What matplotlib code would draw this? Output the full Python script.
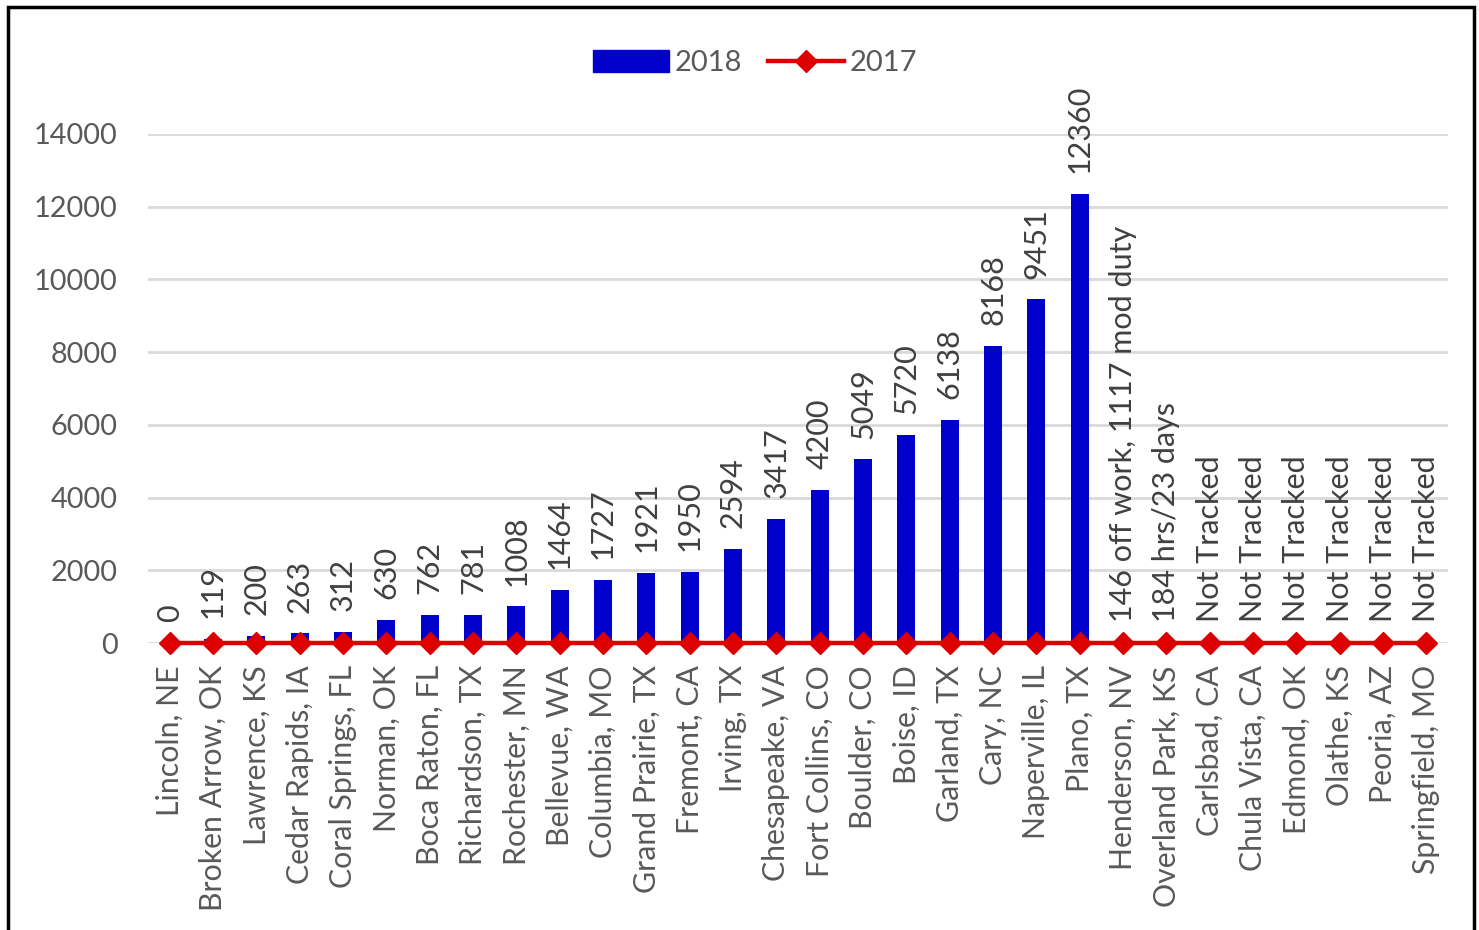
import matplotlib
matplotlib.use("Agg")
import matplotlib.pyplot as plt
from matplotlib.patches import Rectangle
from matplotlib.lines import Line2D
from matplotlib.patches import Patch

plt.rcParams['font.family'] = ['Lato', 'DejaVu Sans']

cities = ["Lincoln, NE", "Broken Arrow, OK", "Lawrence, KS", "Cedar Rapids, IA",
          "Coral Springs, FL", "Norman, OK", "Boca Raton, FL", "Richardson, TX",
          "Rochester, MN", "Bellevue, WA", "Columbia, MO", "Grand Prairie, TX",
          "Fremont, CA", "Irving, TX", "Chesapeake, VA", "Fort Collins, CO",
          "Boulder, CO", "Boise, ID", "Garland, TX", "Cary, NC", "Naperville, IL",
          "Plano, TX", "Henderson, NV", "Overland Park, KS", "Carlsbad, CA",
          "Chula Vista, CA", "Edmond, OK", "Olathe, KS", "Peoria, AZ",
          "Springfield, MO"]
values_2018 = [0, 119, 200, 263, 312, 630, 762, 781, 1008, 1464, 1727, 1921,
               1950, 2594, 3417, 4200, 5049, 5720, 6138, 8168, 9451, 12360,
               0, 0, 0, 0, 0, 0, 0, 0]
values_2017 = [0] * 30
labels_2018 = [str(v) for v in values_2018[:22]] + [
    "146 off work, 1117 mod duty", "184 hrs/23 days",
    "Not Tracked", "Not Tracked", "Not Tracked", "Not Tracked",
    "Not Tracked", "Not Tracked"]
yticks = [0, 2000, 4000, 6000, 8000, 10000, 12000, 14000]

W, H = 1479, 930
fig = plt.figure(figsize=(W / 100, H / 100), dpi=100)
ax = fig.add_axes([148 / W, 1 - 643 / H, 1300 / W, 509 / H])

x = list(range(len(cities)))
blue = "#0000CC"
red = "#DD0000"
gray = "#595959"

ax.bar(x, values_2018, width=0.42, color=blue, zorder=2)
ax.plot(x, values_2017, color=red, lw=3.2, marker="D", markersize=11,
        markerfacecolor=red, markeredgecolor=red, zorder=3, clip_on=False)

for xi, v, lab in zip(x, values_2018, labels_2018):
    ax.annotate(lab, (xi, v), xytext=(0, 15), textcoords="offset points",
                rotation=90, ha="center", va="bottom", fontsize=22,
                color="#404040", annotation_clip=False)

ax.set_xlim(-0.5, len(cities) - 0.5)
ax.set_ylim(0, 14000)
ax.set_yticks(yticks)
ax.set_yticklabels([str(t) for t in yticks], fontsize=20.8, color=gray)
ax.set_xticks(x)
ax.set_xticklabels(cities, rotation=90, fontsize=21.8, color=gray, ha="center", va="top")
ax.tick_params(axis="both", length=0)
ax.tick_params(axis="y", pad=22)
ax.tick_params(axis="x", pad=16)
ax.grid(axis="y", color="#D9D9D9", lw=2, zorder=0)
ax.set_axisbelow(True)
for s in ax.spines.values():
    s.set_visible(False)

handles = [Patch(facecolor=blue, edgecolor=blue),
           Line2D([0], [0], color=red, lw=3.2, marker="D", markersize=11)]
fig.legend(handles, ["2018", "2017"], loc="center", bbox_to_anchor=(755 / W, 1 - 63 / H),
           ncol=2, frameon=False, fontsize=21, labelcolor=gray,
           handlelength=2.6, handleheight=0.75, columnspacing=0.9, handletextpad=0.2)

fig.patches.append(Rectangle((8 / W, -0.01), (1474 - 8) / W, (1 - 7 / H) + 0.01,
                             transform=fig.transFigure, fill=False,
                             edgecolor="black", lw=2.5))

fig.savefig("out.png", dpi=100, facecolor="white")
